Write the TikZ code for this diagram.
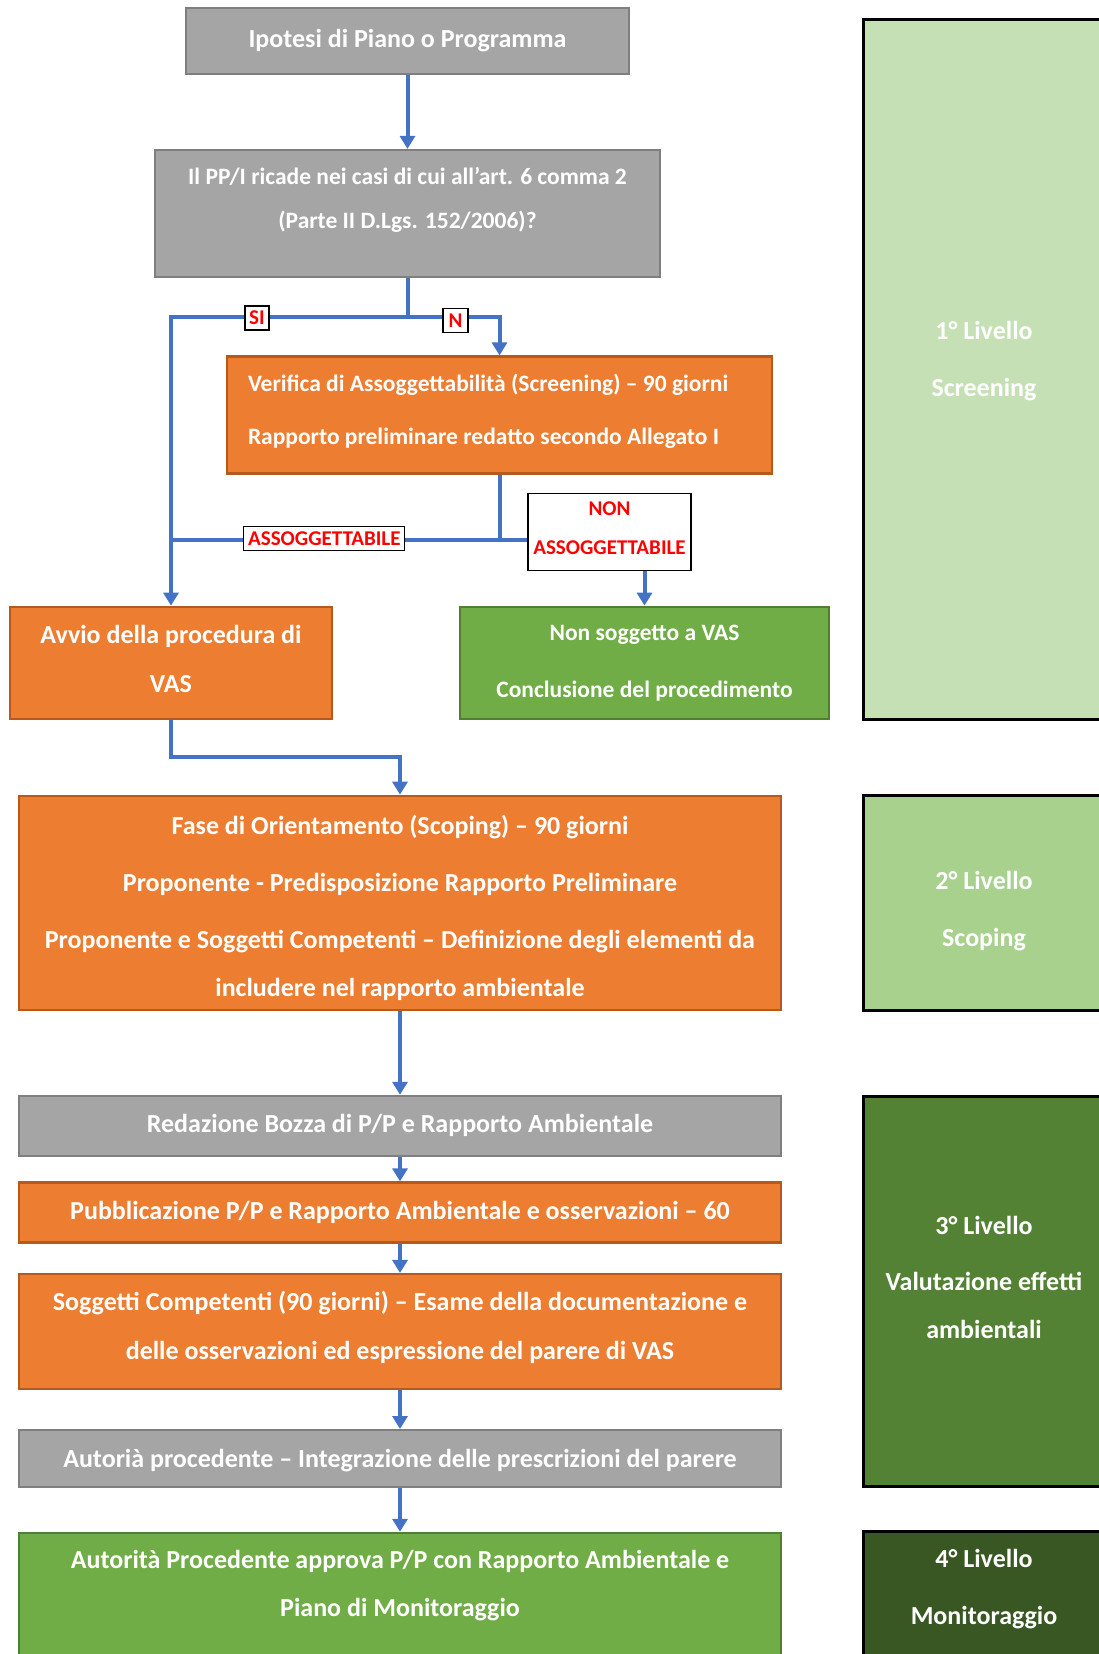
\documentclass[tikz,border=0pt]{standalone}
\usepackage{fontspec}
\setmainfont{Carlito}
\usetikzlibrary{arrows.meta,positioning}
\definecolor{gfill}{HTML}{A5A5A5}
\definecolor{gline}{HTML}{7F7F7F}
\definecolor{ofill}{HTML}{ED7D31}
\definecolor{oline}{HTML}{B55A1F}
\definecolor{vfill}{HTML}{70AD47}
\definecolor{vline}{HTML}{507E32}
\definecolor{blu}{HTML}{4472C4}
\definecolor{lvA}{HTML}{C5E0B4}
\definecolor{lvB}{HTML}{A9D18E}
\definecolor{lvC}{HTML}{548235}
\definecolor{lvD}{HTML}{385723}

\begin{document}
\begin{tikzpicture}[x=1pt,y=-1pt, every node/.style={font=\fontsize{26}{48.5}\selectfont\bfseries,align=center,inner sep=0pt},
 box/.style={draw,line width=2.2pt,text=white},
 grey/.style={box,fill=gfill,draw=gline},
 orng/.style={box,fill=ofill,draw=oline},
 verde/.style={box,fill=vfill,draw=vline},
 smaller/.style={font=\fontsize{23.5}{48.5}\selectfont\bfseries},
 lvl/.style={draw=black,line width=3pt,text=white,minimum width=242},
 tag/.style={draw=black,fill=white,line width=1.2pt,text=red,inner sep=3pt,font=\fontsize{21}{39}\selectfont\bfseries},
 line/.style={draw=blu,line width=4pt},
 arr/.style={line,-{Triangle[width=15pt,length=13pt]}}]
\useasboundingbox (0,0) rectangle (1098,1654);
% colonna sinistra
\node[grey,minimum width=443,minimum height=66] (ipo) at (407.5,41) {Ipotesi di Piano o Programma};
\node[grey,smaller,minimum width=505,minimum height=127,text depth=31] (ric) at (407.5,213.5) {Il PP/I ricade nei casi di cui all’art. 6 comma 2\\[-4.5pt](Parte II D.Lgs. 152/2006)?};
\node[orng,smaller,minimum width=545,minimum height=117,text width=503,align=flush left,text depth=64] (ver) at (499.5,415) {Verifica di Assoggettabilità (Screening) – 90 giorni\\[4.5pt]Rapporto preliminare redatto secondo Allegato I};
\node[orng,minimum width=322.5,minimum height=112.5,text depth=8] (avv) at (171,663) {Avvio della procedura di\\VAS};
\node[verde,smaller,minimum width=369,minimum height=112.5] (nsv) at (644.5,663) {Non soggetto a VAS\\[8.5pt]Conclusione del procedimento};
\node[orng,minimum width=761.5,minimum height=214.5,text height=187,text depth=0] (fase) at (400,903) {Fase di Orientamento (Scoping) – 90 giorni\\[8.5pt]Proponente - Predisposizione Rapporto Preliminare\\[8.5pt]Proponente e Soggetti Competenti – Definizione degli elementi da\\includere nel rapporto ambientale};
\node[grey,minimum width=761.5,minimum height=60,below=83.4pt of fase] (red) {Redazione Bozza di P/P e Rapporto Ambientale};
\node[orng,minimum width=761.5,minimum height=60,below=24.4pt of red] (pub) {Pubblicazione P/P e Rapporto Ambientale e osservazioni – 60};
\node[orng,minimum width=761.5,minimum height=115,text depth=12,below=29.4pt of pub] (sog) {Soggetti Competenti (90 giorni) – Esame della documentazione e\\delle osservazioni ed espressione del parere di VAS};
\node[grey,minimum width=761.5,minimum height=57,text depth=0,below=38.9pt of sog] (int) {Autorià procedente – Integrazione delle prescrizioni del parere};
\node[verde,minimum width=761.5,minimum height=148.4,text depth=47,below=43.5pt of int] (app) {Autorità Procedente approva P/P con Rapporto Ambientale e\\Piano di Monitoraggio};
% livelli
\node[lvl,fill=lvA,minimum height=699,text depth=22] (l1) at (984,369.5) {1° Livello\\[8.5pt]Screening};
\node[lvl,fill=lvB,minimum height=214.5,text height=92] (l2) at (984,903) {2° Livello\\[8.5pt]Scoping};
\node[lvl,fill=lvC,minimum height=390,text depth=27] (l3) at (984,1291) {3° Livello\\[7.5pt]Valutazione effetti\\ambientali};
\node[lvl,fill=lvD,minimum height=148.4,text depth=37] (l4) at (984,1605.8) {4° Livello\\[8.5pt]Monitoraggio};
% collegamenti
\coordinate (j1) at (407.5,316.5);
\coordinate (j2) at (499.5,540);
\draw[arr] (ipo)--(ric);
\draw[line] (ric.south)--(j1);\draw[arr] (j1)-|(avv.north);\draw[arr] (j1)-|(ver.north);
\draw[line] (ver.south)--(j2);\draw[line] (j2)--(j2-|avv.north);
\node[tag,minimum width=163,minimum height=77,text depth=8] (nass) at (609.5,532) {NON\\ASSOGGETTABILE};
\draw[line] (j2)--(j2-|nass.west);
\draw[arr] (nass.south-|nsv.north)--(nsv.north);
\draw[arr] (avv.south)--++(0,37)-|(fase.north);
\draw[arr] (fase)--(red);\draw[arr] (red)--(pub);\draw[arr] (pub)--(sog);
\draw[arr] (sog)--(int);\draw[arr] (int)--(app);
% etichette
\node[tag,minimum width=24,minimum height=24] (si) at (257,318) {SI};
\node[tag,minimum width=25,minimum height=24] (no) at (455.5,320.5) {N};
\node[tag,minimum width=161,minimum height=24] (ass) at (324.3,538.5) {ASSOGGETTABILE};
\end{tikzpicture}
\end{document}
